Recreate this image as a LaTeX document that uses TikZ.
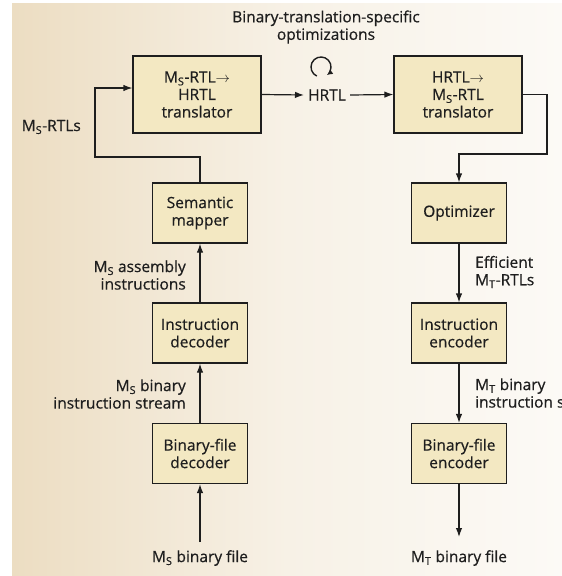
\documentclass[tikz,border=0pt]{standalone}
\usepackage{fontspec}
\setmainfont{Open Sans}[FakeBold=0.6]
\usetikzlibrary{arrows.meta}
\definecolor{boxfill}{RGB}{243,232,194}
\definecolor{bgL}{RGB}{236,221,194}
\definecolor{bgM}{RGB}{247,241,230}
\definecolor{bgR}{RGB}{252,250,246}
\definecolor{ink}{RGB}{30,30,30}
\begin{document}
\begin{tikzpicture}[x=1pt,y=-1pt,
  txt/.style={font=\fontsize{15.5}{17.5}\selectfont, text=ink, inner sep=0pt},
  box/.style={txt, draw=ink, line width=1.2pt, fill=boxfill, align=center},
  bigbox/.style={box, minimum width=128pt, minimum height=77pt},
  smallbox/.style={box, minimum width=95pt, minimum height=60pt},
  arr/.style={draw=ink, line width=1.2pt, -{Latex[length=9pt,width=6.5pt]}},
  line/.style={draw=ink, line width=1.2pt}]
\useasboundingbox (0,0) rectangle (562,576);
\begin{scope}
\clip (0,0) rectangle (562,576);
\shade[left color=bgL, right color=bgR, middle color=bgM] (12,3) rectangle (562,576);

% top row
\node[bigbox] (t1) at (197,94.5) {M\textsubscript{S}-RTL$\rightarrow$\\HRTL\\translator};
\node[bigbox] (t2) at (458,94.5) {HRTL$\rightarrow$\\M\textsubscript{S}-RTL\\translator};
\node[txt, inner sep=4pt] (h) at (327,95) {HRTL};
\node[txt, align=center] (title) at (326,27) {Binary-translation-specific\\optimizations};
\coordinate (lp) at (321,67);

% left column
\node[smallbox] (sm) at (200,213) {Semantic\\mapper};
\node[smallbox] (id) at (200,333) {Instruction\\decoder};
\node[smallbox] (bfd) at (200,453.5) {Binary-file\\decoder};
\coordinate (in) at (200,542);
\node[txt] (inl) at (200,558) {M\textsubscript{S} binary file};

% right column
\node[smallbox] (opt) at (459,213) {Optimizer};
\node[smallbox] (ie) at (459,333) {Instruction\\encoder};
\node[smallbox] (bfe) at (459,453.5) {Binary-file\\encoder};
\coordinate (out) at (459,537);
\node[txt] (outl) at (459,558) {M\textsubscript{T} binary file};

% labels
\node[txt, anchor=east] (msrtl) at (81,127) {M\textsubscript{S}-RTLs};
\node[txt, anchor=east, align=right] (l1) at (186,275) {M\textsubscript{S} assembly\\instructions};
\node[txt, anchor=east, align=right] (l2) at (186,394) {M\textsubscript{S} binary\\instruction stream};
\node[txt, anchor=west, align=left] (r1) at (475,272) {Efficient\\M\textsubscript{T}-RTLs};
\node[txt, anchor=west, align=left] (r2) at (475,393) {M\textsubscript{T} binary\\instruction stream};

% connectors
\draw[arr] (t1.east) -- (h.west);
\draw[arr] (h.east) -- (t2.west);
\draw[arr] (sm.north) |- (95,157) |- ([yshift=6.5pt]t1.west);
\draw[arr] (t2.east) -| (547,154) -| (opt.north);
\draw[arr] (id.north) -- (sm.south);
\draw[arr] (bfd.north) -- (id.south);
\draw[arr] (in) -- (bfd.south);
\draw[arr] (opt.south) -- (ie.north);
\draw[arr] (ie.south) -- (bfe.north);
\draw[arr] (bfe.south) -- (out);
\draw[draw=ink, line width=1.4pt, -{Latex[length=6pt,width=5.5pt]}] ([shift={(115:10)}]lp) arc[start angle=115, end angle=415, radius=10];
\end{scope}
\end{tikzpicture}
\end{document}
